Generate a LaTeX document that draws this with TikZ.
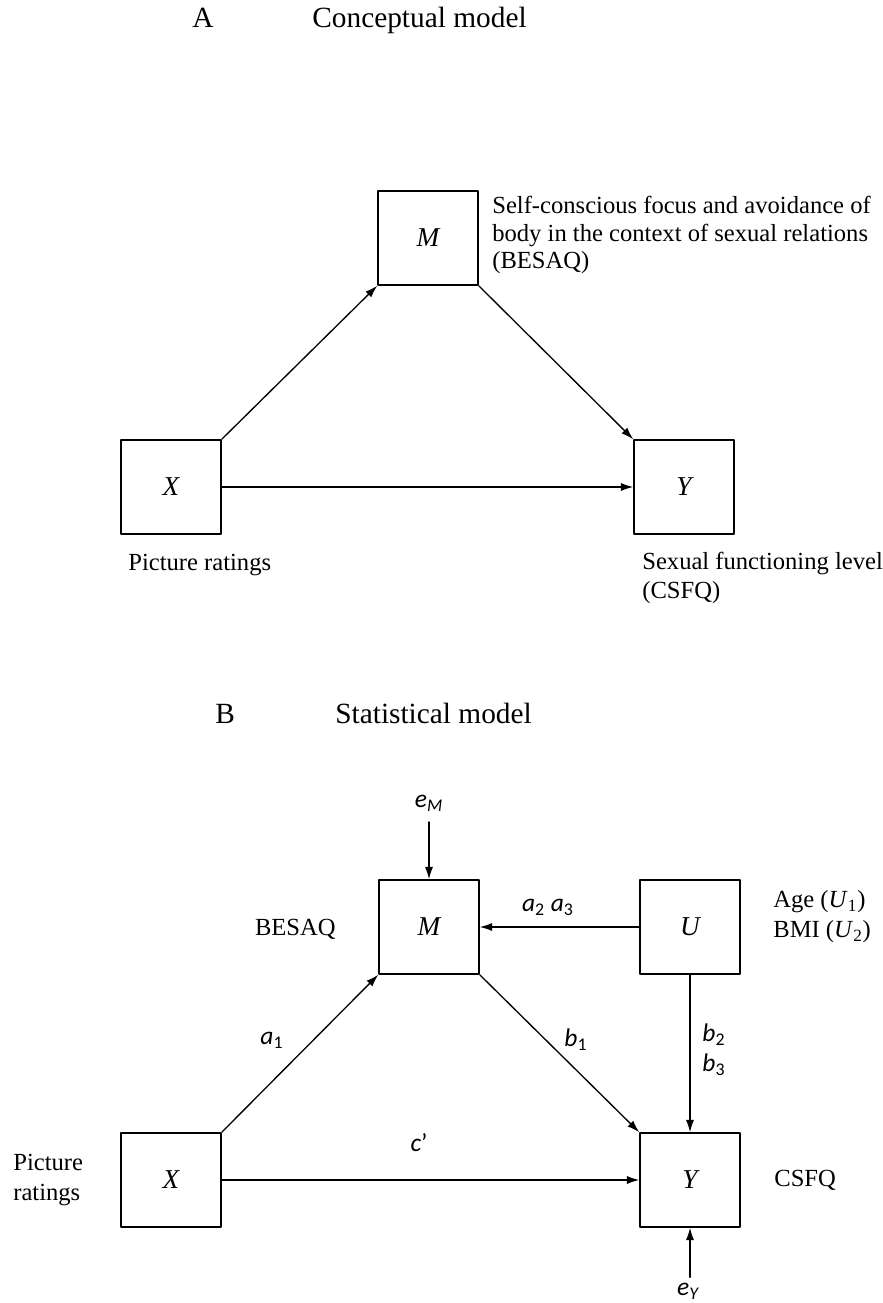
\documentclass[tikz,border=0pt]{standalone}
\usepackage{fontspec}
\setmainfont{Liberation Serif}
\newfontfamily\calfont{Carlito}
\usetikzlibrary{arrows.meta}
\newcommand{\coefsub}[2]{{\calfont\itshape #1\textsubscript{#2}}}

\begin{document}
\begin{tikzpicture}[x=0.02cm, y=-0.02cm, >={Latex[length=7pt,width=4.6pt]}, line cap=round, line join=round,
	var/.style={draw, line width=0.85pt, minimum width=2cm, minimum height=1.88cm, inner sep=0pt,
		font=\fontsize{15.5}{18}\selectfont\itshape},
	arr/.style={->, line width=0.75pt},
	txt/.style={inner sep=0pt, font=\fontsize{14}{17}\selectfont},
	coef/.style={inner sep=0pt, font=\calfont\fontsize{14.5}{17}\selectfont},
	ttl/.style={inner sep=0pt, anchor=base west, font=\fontsize{16.7}{20}\selectfont}]
		
		\useasboundingbox (0,0) rectangle (883,1303);
		
		% ===== A: conceptual model =====
		\begin{scope}
			\node[ttl] (tA) at (192,27) {A};
			\node[ttl] (tAname) at (312,27) {Conceptual model};
			% boxes
			\node[var] (Ma) at (428,238) {M};
			\node[var] (Xa) at (171,487) {X};
			\node[var] (Ya) at (684,487) {Y};
			% labels of the boxes
			\node[txt, anchor=west, align=left, font=\fontsize{14}{15.6}\selectfont] (MaLab) at (492,235)
			{Self-conscious focus and avoidance of\\body in the context of sexual relations\\(BESAQ)};
			\node[txt, anchor=west] (XaLab) at (128,565) {Picture ratings};
			\node[txt, anchor=west, align=left] (YaLab) at (642,578) {Sexual functioning level\\(CSFQ)};
			% paths
			\draw[arr] (Xa.north east) -- (Ma.south west);
			\draw[arr] (Ma.south east) -- (Ya.north west);
			\draw[arr] (Xa) -- (Ya);
		\end{scope}
		
		% ===== B: statistical model =====
		\begin{scope}
			\node[ttl] (tB) at (215,723) {B};
			\node[ttl] (tBname) at (335,723) {Statistical model};
			% boxes
			\node[var] (Mb) at (429,927) {M};
			\node[var] (U) at (690,927) {U};
			\node[var] (Xb) at (171,1180) {X};
			\node[var] (Yb) at (690,1180) {Y};
			% error terms
			\node[coef] (eM) at (429,803) {\coefsub{e}{M}};
			\node[coef] (eY) at (688,1291) {\coefsub{e}{Y}};
			% labels of the boxes
			\node[txt, anchor=east] (MbLab) at (336,929) {BESAQ};
			\node[txt, anchor=west, align=left] (ULab) at (773,917)
			{Age (\textit{U}\textsubscript{1})\\BMI (\textit{U}\textsubscript{2})};
			\node[txt, anchor=west, align=left] (XbLab) at (13,1180) {Picture\\ratings};
			\node[txt, anchor=west] (YbLab) at (774,1180) {CSFQ};
			% path coefficients
			\node[coef] (a1) at (272,1040) {\coefsub{a}{\upshape 1}};
			\node[coef] (b1) at (576,1040) {\coefsub{b}{\upshape 1}};
			\node[coef] (a23) at (548,907) {\coefsub{a}{\upshape 2} \coefsub{a}{\upshape 3}};
			\node[coef, align=left] (b23) at (714,1050) {\coefsub{b}{\upshape 2}\\\coefsub{b}{\upshape 3}};
			\node[coef] (cp) at (419,1143) {{\itshape c}’};
			% paths
			\draw[arr, shorten <=6pt] (eM) -- (Mb);
			\draw[arr, shorten <=3pt] (eY.north -| Yb) -- (Yb);
			\draw[arr] (U) -- (Mb);
			\draw[arr] (U) -- (Yb);
			\draw[arr] (Xb.north east) -- (Mb.south west);
			\draw[arr] (Mb.south east) -- (Yb.north west);
			\draw[arr] (Xb) -- (Yb);
		\end{scope}
		
	\end{tikzpicture}
\end{document}
